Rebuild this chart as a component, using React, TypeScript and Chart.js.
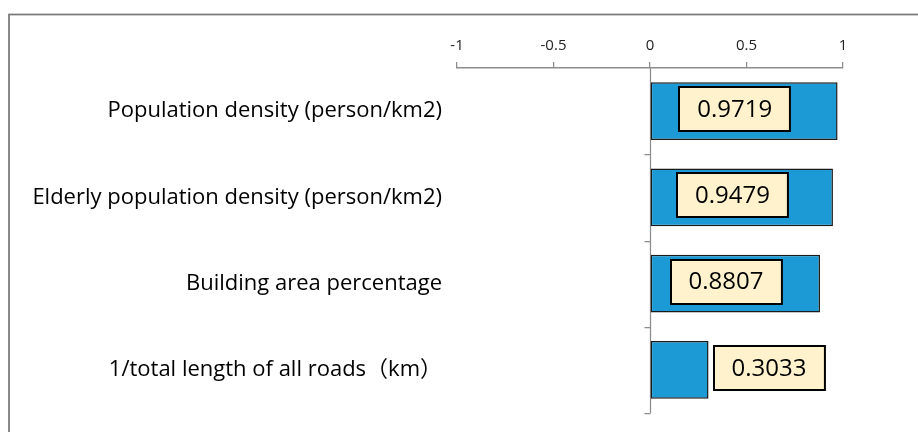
import React, { useEffect, useRef } from "react";
import { Chart, registerables } from "chart.js";

Chart.register(...registerables);

const categories = [
  "Population density (person/km2)",
  "Elderly population density (person/km2)",
  "Building area percentage",
  "1/total length of all roads（km）",
];
const values = [0.9719, 0.9479, 0.8807, 0.3033];
const xTicks = [-1, -0.5, 0, 0.5, 1];
const xTickLabels = ["-1", "-0.5", "0", "0.5", "1"];
const valueLabels = ["0.9719", "0.9479", "0.8807", "0.3033"];

const FONT = "'Open Sans', 'Noto Sans CJK JP', sans-serif";
const AXIS_GRAY = "#8c8c8c";

const decorPlugin = {
  id: "decor",
  beforeDraw(chart: any) {
    const ctx = chart.ctx;
    ctx.save();
    ctx.strokeStyle = "#7a7a7a";
    ctx.lineWidth = 1.75;
    ctx.strokeRect(9, 14.5, 3000, 3000);
    ctx.restore();
  },
  beforeDatasetsDraw(chart: any) {
    const ctx = chart.ctx;
    const x = chart.scales.x;
    const y = chart.scales.y;
    const x0 = Math.round(x.getPixelForValue(0)) + 0.5;
    ctx.save();
    ctx.strokeStyle = AXIS_GRAY;
    ctx.lineWidth = 1.25;
    ctx.beginPath();
    ctx.moveTo(x0, y.top);
    ctx.lineTo(x0, y.bottom);
    const n = categories.length;
    for (let i = 0; i < n; i++) {
      const c = y.getPixelForValue(i);
      const next = i < n - 1 ? y.getPixelForValue(i + 1) : c + (c - y.getPixelForValue(i - 1));
      const b = Math.round((c + next) / 2) + 0.5;
      ctx.moveTo(x0 - 6, b);
      ctx.lineTo(x0, b);
    }
    ctx.stroke();
    ctx.restore();
  },
  afterDatasetsDraw(chart: any) {
    const ctx = chart.ctx;
    const x = chart.scales.x;
    const meta = chart.getDatasetMeta(0);
    ctx.save();
    ctx.font = `24px ${FONT}`;
    ctx.textAlign = "center";
    ctx.textBaseline = "middle";
    meta.data.forEach((bar: any, i: number) => {
      const v = values[i];
      const text = valueLabels[i];
      const tw = ctx.measureText(text).width;
      const w = tw + 36;
      const h = 44;
      const barW = Math.abs(bar.x - x.getPixelForValue(0));
      let cx: number;
      if (barW > w + 10) {
        cx = x.getPixelForValue(v / 2) - 9;
      } else {
        cx = bar.x + 5 + w / 2;
      }
      const cy = bar.y - 2;
      const lx = Math.round(cx - w / 2);
      const ly = Math.round(cy - h / 2);
      ctx.fillStyle = "#FFF2CC";
      ctx.fillRect(lx, ly, w, h);
      ctx.strokeStyle = "#000";
      ctx.lineWidth = 2;
      ctx.strokeRect(lx, ly, w, h);
      ctx.fillStyle = "#000";
      ctx.fillText(text, cx, cy + 1);
    });
    ctx.restore();
  },
};

export default function App() {
  const ref = useRef<HTMLCanvasElement | null>(null);
  useEffect(() => {
    if (!ref.current) return;
    const chart = new Chart(ref.current, {
      type: "bar",
      data: {
        labels: categories,
        datasets: [
          {
            data: values,
            backgroundColor: "#1C9AD6",
            borderColor: "#1a1a1a",
            borderWidth: 1.5,
            borderSkipped: false,
            barPercentage: 0.672,
            categoryPercentage: 1,
          },
        ],
      },
      options: {
        indexAxis: "y",
        animation: false,
        responsive: false,
        layout: { padding: { left: 0, right: 75, top: 0, bottom: 19 } },
        plugins: {
          legend: { display: false },
          tooltip: { enabled: false },
        },
        scales: {
          x: {
            position: "top",
            min: -1,
            max: 1,
            afterBuildTicks: (scale: any) => {
              scale.ticks = xTicks.map((v) => ({ value: v }));
            },
            afterFit: (scale: any) => {
              scale.height = 68;
              scale.paddingLeft = 0;
              scale.paddingRight = 0;
            },
            ticks: {
              padding: 7,
              color: "#222",
              font: { family: FONT, size: 15 },
              callback: (_v: any, i: number) => xTickLabels[i],
            },
            grid: {
              display: true,
              drawOnChartArea: false,
              drawTicks: true,
              tickLength: 6,
              color: AXIS_GRAY,
              lineWidth: 1.25,
            },
            border: { display: true, color: AXIS_GRAY, width: 1.5 },
          },
          y: {
            type: "category",
            position: "left",
            afterFit: (scale: any) => {
              scale.width = 457;
              scale.paddingTop = 0;
              scale.paddingBottom = 0;
            },
            ticks: {
              padding: 15,
              color: "#000",
              font: { family: FONT, size: 22 },
            },
            grid: { display: false, drawTicks: false },
            border: { display: false },
          },
        },
      },
      plugins: [decorPlugin],
    } as any);
    return () => chart.destroy();
  }, []);
  return (
    <div style={{ position: "fixed", left: 0, top: 0, width: 918, height: 432, background: "#fff" }}>
      <canvas ref={ref} width={918} height={432} style={{ display: "block", width: 918, height: 432 }} />
    </div>
  );
}
